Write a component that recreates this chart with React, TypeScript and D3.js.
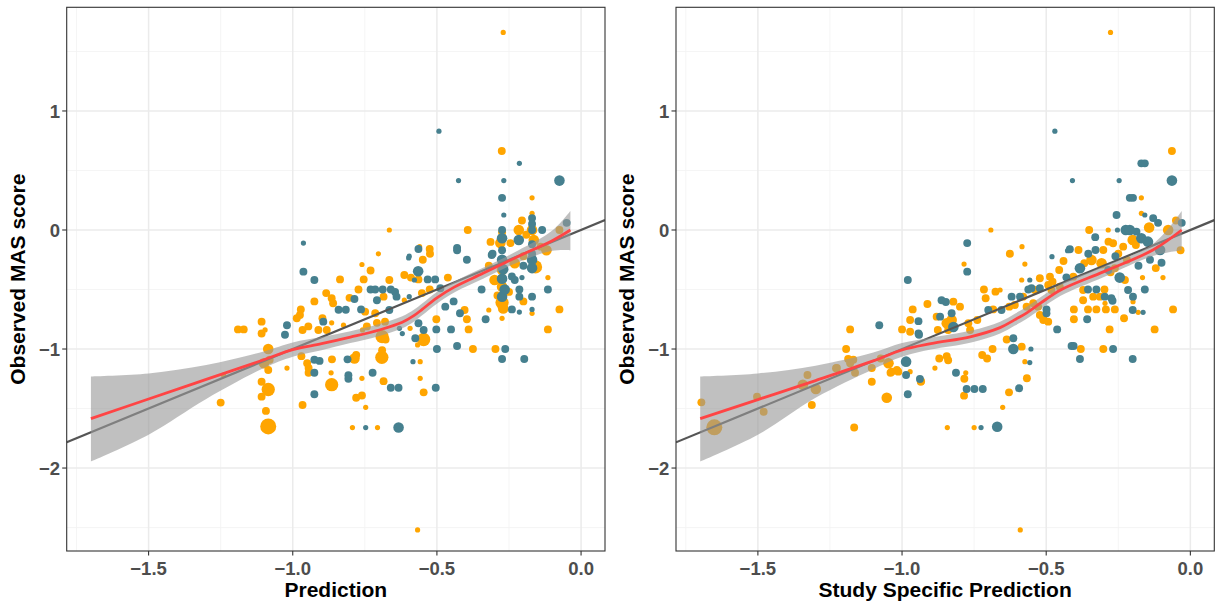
import React from "react";
import * as d3 from "d3";

type Pt = [number, number, number];

// ---------- tick values & labels ----------
const xTickValues = [-1.5, -1.0, -0.5, 0.0];
const xMinorValues = [-1.75, -1.25, -0.75, -0.25];
const yTickValues = [-2, -1, 0, 1];
const yMinorValues = [-2.5, -1.5, -0.5, 0.5, 1.5];
const xTitles = ["Prediction", "Study Specific Prediction"];
const yTitle = "Observed MAS score";
const xDomain = [-1.784, 0.083];
const yDomain = [-2.697, 1.871];

// ---------- left panel points [x, y, sizeClass] ----------
const leftOrange: Pt[] = [
  [-0.27, 1.66, 1], [-0.275, 0.664, 2], [-0.17, 0.27, 1], [-0.17, 0.14, 1], [-0.205, 0.08, 2],
  [-0.216, 0.0, 3], [-0.17, 0.0, 3], [-0.274, -0.02, 2], [-0.075, 0.0, 2], [-0.665, 0.0, 1],
  [-0.393, 0.0, 2], [-0.525, -0.16, 2], [-0.524, -0.2, 2], [-0.703, -0.2, 1], [-0.549, -0.25, 2],
  [-0.314, -0.1, 2], [-0.245, -0.11, 2], [-0.164, -0.084, 3], [-0.158, -0.31, 4], [-0.274, -0.336, 3],
  [-0.274, -0.476, 3], [-0.274, -0.61, 4], [-0.76, -0.29, 1], [-0.73, -0.34, 2], [-0.836, -0.415, 2],
  [-0.754, -0.415, 2], [-0.665, -0.42, 2], [-0.613, -0.378, 2], [-0.59, -0.4, 2], [-0.564, -0.415, 2],
  [-0.462, -0.4, 2], [-0.525, -0.5, 2], [-0.552, -0.53, 2], [-0.772, -0.5, 2], [-0.685, -0.56, 2],
  [-0.613, -0.59, 1], [-0.803, -0.57, 2], [-0.884, -0.53, 2], [-0.865, -0.574, 2], [-0.86, -0.616, 2],
  [-0.925, -0.6, 2], [-0.749, -0.686, 2], [-0.714, -0.7, 2], [-0.972, -0.667, 2], [-0.975, -0.714, 2],
  [-0.986, -0.742, 2], [-0.897, -0.742, 2], [-0.865, -0.78, 1], [-1.108, -0.77, 2], [-1.108, -0.87, 2],
  [-1.096, -0.84, 1], [-1.19, -0.835, 2], [-1.17, -0.835, 2], [-0.966, -0.84, 2], [-0.946, -0.81, 2],
  [-0.911, -0.84, 2], [-0.882, -0.84, 2], [-0.824, -0.8, 1], [-0.758, -0.84, 1], [-0.743, -0.81, 2],
  [-0.708, -0.78, 2], [-0.68, -0.77, 2], [-0.69, -0.896, 4], [-0.678, -0.92, 2], [-0.593, -0.826, 1],
  [-0.546, -0.92, 4], [-0.567, -0.966, 1], [-0.502, -0.75, 2], [-0.404, -0.672, 2], [-0.396, -0.75, 2],
  [-0.39, -0.835, 2], [-0.375, -1.0, 2], [-0.32, -0.672, 1], [-0.297, -1.0, 2], [-0.274, -0.742, 1],
  [-0.17, -0.7, 1], [-0.115, -0.4, 1], [-0.075, -0.667, 2], [-0.115, -0.835, 2], [-0.12, -0.17, 3],
  [-1.085, -1.0, 3], [-1.08, -1.09, 2], [-1.1, -1.12, 3], [-1.085, -1.176, 2], [-1.02, -1.16, 1],
  [-0.95, -1.12, 2], [-0.945, -1.16, 2], [-0.945, -1.2, 2], [-0.97, -1.06, 2], [-0.864, -1.087, 2],
  [-0.786, -1.08, 3], [-0.78, -1.05, 2], [-0.691, -1.07, 4], [-0.69, -1.01, 2], [-0.867, -1.2, 1],
  [-0.76, -1.246, 1], [-0.685, -1.27, 2], [-0.865, -1.3, 4], [-0.78, -1.41, 2], [-0.76, -1.39, 2],
  [-0.747, -1.49, 1], [-0.558, -1.106, 1], [-0.558, -1.246, 1], [-0.546, -1.364, 2], [-0.966, -1.47, 2],
  [-1.093, -1.52, 2], [-1.108, -1.4, 2], [-1.085, -1.34, 4], [-1.108, -1.275, 2], [-1.085, -1.65, 5],
  [-1.25, -1.45, 2], [-0.793, -1.66, 1], [-0.706, -1.66, 1], [-0.567, -2.52, 1], [-1.24, -1.22, 1],
  [-0.56, -0.14, 1], [-0.2, -0.22, 2], [-0.23, -0.28, 3], [-0.3, -0.42, 3], [-0.25, -0.52, 2],
  [-0.32, -0.3, 2], [-0.14, -0.14, 2], [-0.19, -0.04, 2], [-0.28, -0.11, 3], [-0.27, -0.66, 3],
  [-0.29, -0.55, 2], [-0.2, -0.6, 2],
];

const leftTeal: Pt[] = [
  [-0.493, 0.83, 1], [-0.214, 0.56, 1], [-0.425, 0.415, 1], [-0.268, 0.415, 1], [-0.075, 0.415, 3],
  [-0.274, 0.27, 2], [-0.268, 0.126, 1], [-0.17, 0.1, 2], [-0.17, 0.05, 2], [-0.17, 0.0, 2],
  [-0.274, 0.0, 2], [-0.135, 0.0, 2], [-0.05, 0.06, 2], [-0.963, -0.11, 1], [-0.43, -0.15, 2],
  [-0.43, -0.17, 2], [-0.564, -0.16, 2], [-0.596, -0.22, 1], [-0.396, -0.25, 2], [-0.307, -0.2, 2],
  [-0.274, -0.07, 3], [-0.216, -0.084, 3], [-0.274, -0.17, 2], [-0.274, -0.25, 3], [-0.274, -0.41, 3],
  [-0.274, -0.56, 3], [-0.17, -0.2, 2], [-0.17, -0.25, 3], [-0.17, -0.32, 3], [-0.24, -0.39, 2],
  [-0.23, -0.42, 2], [-0.205, -0.4, 1], [-0.963, -0.35, 2], [-0.925, -0.42, 2], [-0.578, -0.42, 1],
  [-0.532, -0.415, 2], [-0.506, -0.415, 2], [-0.488, -0.49, 2], [-0.73, -0.5, 2], [-0.714, -0.5, 2],
  [-0.688, -0.5, 2], [-0.66, -0.5, 2], [-0.645, -0.52, 2], [-0.64, -0.56, 2], [-0.708, -0.59, 2],
  [-0.596, -0.56, 1], [-0.786, -0.58, 2], [-0.841, -0.67, 2], [-0.816, -0.67, 2], [-0.763, -0.667, 2],
  [-0.665, -0.672, 2], [-0.894, -0.77, 2], [-1.02, -0.8, 2], [-1.027, -0.88, 2], [-0.63, -0.826, 1],
  [-0.62, -0.87, 1], [-0.564, -0.784, 2], [-0.546, -0.84, 2], [-0.575, -0.91, 2], [-0.502, -0.835, 2],
  [-0.5, -1.0, 2], [-0.451, -0.835, 2], [-0.442, -0.6, 2], [-0.471, -0.644, 2], [-0.42, -0.7, 2],
  [-0.43, -0.975, 2], [-0.331, -0.75, 2], [-0.345, -0.5, 2], [-0.263, -1.0, 2], [-0.274, -1.084, 2],
  [-0.197, -1.084, 2], [-0.24, -0.667, 2], [-0.214, -0.69, 1], [-0.214, -0.56, 2], [-0.214, -0.5, 2],
  [-0.17, -0.56, 2], [-0.17, -0.667, 1], [-0.115, -0.5, 2], [-0.925, -1.09, 2], [-0.907, -1.1, 2],
  [-0.925, -1.2, 2], [-0.925, -1.38, 2], [-0.81, -1.087, 2], [-0.807, -1.22, 2], [-0.807, -1.25, 2],
  [-0.723, -1.2, 2], [-0.66, -1.325, 2], [-0.633, -1.325, 2], [-0.583, -1.106, 1], [-0.504, -1.325, 2],
  [-0.747, -1.66, 1], [-0.633, -1.66, 3], [-0.598, -0.235, 1], [-0.565, -0.346, 3], [-0.31, -0.21, 2],
  [-0.27, -0.33, 3], [-0.265, -0.5, 3], [-0.17, -0.12, 2], [-0.2, -0.3, 2],
];

// ---------- right panel points ----------
const rightOrange: Pt[] = [
  [-0.277, 1.66, 1], [-0.064, 0.664, 2], [-0.17, 0.27, 1], [-0.17, 0.14, 1], [-0.285, 0.0, 1],
  [-0.351, 0.0, 2], [-0.143, 0.02, 3], [-0.077, 0.0, 3], [-0.05, 0.08, 2], [-0.034, -0.17, 2],
  [-0.2, -0.084, 3], [-0.189, -0.126, 2], [-0.233, -0.14, 2], [-0.268, -0.112, 2], [-0.284, -0.098, 2],
  [-0.302, -0.168, 2], [-0.388, -0.168, 2], [-0.626, -0.2, 2], [-0.584, -0.14, 1], [-0.574, -0.286, 1],
  [-0.692, 0.0, 1], [-0.785, -0.286, 1], [-0.585, -0.42, 1], [-0.522, -0.406, 2], [-0.487, -0.392, 2],
  [-0.478, -0.434, 2], [-0.455, -0.336, 2], [-0.406, -0.392, 2], [-0.368, -0.28, 2], [-0.343, -0.252, 3],
  [-0.308, -0.28, 3], [-0.262, -0.322, 2], [-0.227, -0.42, 2], [-0.199, -0.602, 1], [-0.181, -0.692, 1],
  [-0.166, -0.4, 1], [-0.095, -0.4, 1], [-0.06, -0.667, 2], [-0.124, -0.835, 2], [-0.23, -0.742, 2],
  [-0.28, -0.835, 2], [-0.302, -1.0, 2], [-0.38, -1.0, 2], [-0.51, -0.742, 2], [-0.493, -0.77, 2],
  [-0.404, -0.667, 2], [-0.404, -0.75, 2], [-0.355, -0.667, 2], [-0.326, -0.667, 2], [-0.293, -0.667, 2],
  [-0.262, -0.667, 2], [-0.372, -0.59, 2], [-0.337, -0.56, 2], [-0.314, -0.56, 2], [-0.296, -0.616, 1],
  [-0.372, -0.504, 2], [-0.298, -0.5, 2], [-0.716, -0.5, 2], [-0.71, -0.574, 2], [-0.676, -0.518, 2],
  [-0.66, -0.504, 1], [-0.58, -0.56, 2], [-0.539, -0.504, 2], [-0.493, -0.462, 2], [-0.453, -0.476, 2],
  [-0.482, -0.504, 2], [-0.628, -0.644, 2], [-0.609, -0.63, 2], [-0.568, -0.644, 2], [-0.545, -0.616, 2],
  [-0.528, -0.644, 2], [-0.522, -0.714, 2], [-0.51, -0.756, 2], [-0.684, -0.667, 2], [-0.739, -0.756, 2],
  [-0.77, -0.784, 2], [-0.764, -0.84, 2], [-0.822, -0.602, 2], [-0.799, -0.644, 2], [-0.845, -0.784, 3],
  [-0.828, -0.756, 3], [-0.84, -0.84, 2], [-0.876, -0.84, 2], [-0.88, -0.728, 2], [-0.912, -0.622, 2],
  [-0.963, -0.667, 2], [-0.972, -0.756, 2], [-0.972, -0.855, 2], [-1.0, -0.835, 2], [-1.18, -0.835, 2],
  [-1.194, -1.0, 2], [-1.169, -1.09, 2], [-1.18, -1.12, 2], [-1.226, -1.16, 2], [-1.105, -1.16, 2],
  [-1.074, -1.08, 2], [-1.047, -1.12, 3], [-1.036, -1.19, 2], [-1.013, -1.19, 2], [-0.972, -1.19, 1],
  [-0.934, -1.27, 2], [-1.105, -1.275, 2], [-1.053, -1.41, 3], [-0.886, -1.16, 1], [-0.871, -1.08, 2],
  [-0.845, -1.06, 2], [-0.84, -1.095, 2], [-0.722, -1.05, 2], [-0.705, -1.08, 2], [-0.686, -1.0, 2],
  [-0.637, -0.92, 2], [-0.585, -0.98, 2], [-0.574, -1.106, 1], [-0.779, -1.2, 1], [-0.784, -1.25, 2],
  [-0.567, -1.246, 2], [-0.629, -1.364, 2], [-0.785, -1.392, 2], [-0.651, -1.49, 1], [-1.166, -1.66, 2],
  [-0.843, -1.66, 1], [-0.75, -1.66, 1], [-0.59, -2.52, 1], [-1.696, -1.448, 2], [-1.651, -1.658, 5],
  [-1.503, -1.4, 2], [-1.48, -1.527, 2], [-1.328, -1.218, 2], [-1.344, -1.3, 3], [-1.299, -1.336, 3],
  [-1.313, -1.47, 2], [-1.229, -1.162, 2], [-1.187, -1.084, 2], [-1.163, -1.2, 2], [-1.018, -1.176, 2],
  [-0.935, -1.275, 2], [-1.04, -1.2, 2], [-0.277, -0.356, 2], [-0.44, -0.26, 2], [-0.25, -0.2, 2],
  [-0.22, -0.25, 2], [-0.12, -0.32, 2],
];

const rightTeal: Pt[] = [
  [-0.47, 0.83, 1], [-0.17, 0.56, 2], [-0.158, 0.56, 2], [-0.409, 0.415, 1], [-0.247, 0.415, 1],
  [-0.064, 0.415, 3], [-0.21, 0.27, 2], [-0.199, 0.27, 2], [-0.256, 0.126, 2], [-0.129, 0.1, 2],
  [-0.112, 0.06, 2], [-0.158, 0.126, 1], [-0.253, 0.0, 1], [-0.224, 0.0, 3], [-0.21, 0.0, 3],
  [-0.187, -0.014, 2], [-0.03, 0.06, 2], [-0.17, -0.07, 3], [-0.147, -0.098, 3], [-0.105, -0.168, 3],
  [-0.1, -0.275, 2], [-0.14, -0.25, 2], [-0.329, -0.168, 2], [-0.354, -0.2, 2], [-0.418, -0.162, 2],
  [-0.426, -0.174, 1], [-0.48, -0.224, 1], [-0.774, -0.11, 2], [-0.774, -0.35, 2], [-0.98, -0.42, 2],
  [-0.557, -0.42, 1], [-0.43, -0.398, 2], [-0.383, -0.322, 3], [-0.285, -0.336, 2], [-0.245, -0.4, 3],
  [-0.216, -0.504, 2], [-0.199, -0.56, 2], [-0.2, -0.672, 2], [-0.164, -0.692, 1], [-0.158, -0.5, 2],
  [-0.268, -1.0, 2], [-0.2, -1.084, 2], [-0.412, -0.975, 2], [-0.405, -0.975, 2], [-0.383, -1.084, 2],
  [-0.462, -0.835, 2], [-0.358, -0.75, 2], [-0.326, -0.5, 2], [-0.355, -0.5, 2], [-0.297, -0.56, 2],
  [-0.274, -0.574, 2], [-0.27, -0.594, 2], [-0.62, -0.56, 2], [-0.591, -0.56, 2], [-0.562, -0.5, 2],
  [-0.551, -0.49, 2], [-0.522, -0.49, 2], [-0.655, -0.672, 2], [-0.701, -0.672, 2], [-0.499, -0.667, 2],
  [-0.499, -0.7, 2], [-0.863, -0.59, 2], [-0.848, -0.605, 2], [-0.828, -0.7, 2], [-0.822, -0.815, 3],
  [-0.868, -0.728, 2], [-0.943, -0.766, 2], [-0.943, -0.87, 2], [-1.079, -0.8, 2], [-0.986, -1.106, 3],
  [-0.986, -1.218, 2], [-0.938, -1.252, 2], [-0.98, -1.38, 2], [-0.941, -0.88, 2], [-0.614, -0.91, 2],
  [-0.614, -1.0, 3], [-0.553, -1.0, 1], [-0.557, -1.114, 1], [-0.813, -1.2, 2], [-0.776, -1.336, 2],
  [-0.749, -1.336, 2], [-0.72, -1.336, 2], [-0.594, -1.33, 2], [-0.726, -1.66, 1], [-0.67, -1.653, 3],
  [-0.26, -0.22, 2], [-0.18, -0.3, 2], [-0.33, -0.06, 2],
];

// ---------- loess smooth (fit + confidence band) ----------
const leftSmoothX = [-1.7, -1.5, -1.3, -1.1, -1.0, -0.9, -0.8, -0.7, -0.62, -0.58, -0.55, -0.5, -0.44, -0.34, -0.22, -0.1, -0.037];
const leftSmoothFit = [-1.585, -1.42, -1.255, -1.09, -1.005, -0.955, -0.9, -0.84, -0.775, -0.72, -0.665, -0.57, -0.48, -0.364, -0.224, -0.09, 0.0];
const leftSmoothHi = [-1.23, -1.205, -1.135, -1.02, -0.945, -0.9, -0.85, -0.79, -0.725, -0.67, -0.615, -0.52, -0.434, -0.318, -0.175, -0.005, 0.16];
const leftSmoothLo = [-1.945, -1.72, -1.42, -1.16, -1.065, -1.01, -0.95, -0.89, -0.825, -0.77, -0.715, -0.62, -0.526, -0.41, -0.273, -0.175, -0.17];

const rightSmoothX = [-1.7, -1.5, -1.3, -1.1, -1.0, -0.9, -0.76, -0.66, -0.61, -0.57, -0.52, -0.45, -0.3, -0.13, -0.03];
const rightSmoothFit = [-1.585, -1.425, -1.265, -1.1, -1.008, -0.955, -0.895, -0.82, -0.755, -0.7, -0.615, -0.504, -0.35, -0.168, 0.0];
const rightSmoothHi = [-1.23, -1.205, -1.14, -1.03, -0.95, -0.905, -0.845, -0.77, -0.705, -0.65, -0.565, -0.455, -0.305, -0.118, 0.16];
const rightSmoothLo = [-1.945, -1.72, -1.41, -1.17, -1.065, -1.005, -0.945, -0.87, -0.805, -0.75, -0.665, -0.553, -0.395, -0.218, -0.17];

// ---------- layout ----------
const W = 1215;
const H = 606;
const TOP = 7.3;
const PW = 538.3;
const PH = 543.7;
const PANEL_X = [66.7, 676];
const FONT = "'Liberation Sans', Arial, Helvetica, sans-serif";
const ORANGE = "#FFA500";
const TEAL = "#46808F";

interface PanelProps {
  id: string;
  x0: number;
  title: string;
  orange: Pt[];
  teal: Pt[];
  sx: number[];
  fit: number[];
  lo: number[];
  hi: number[];
}

function Panel({ id, x0, title, orange, teal, sx, fit, lo, hi }: PanelProps) {
  const x = d3.scaleLinear().domain(xDomain).range([0, PW]);
  const y = d3.scaleLinear().domain(yDomain).range([PH, 0]);
  const r = d3.scaleLinear().domain([1, 5]).range([2.6, 8]);
  const rows = sx.map((v, i) => ({ x: v, f: fit[i], lo: lo[i], hi: hi[i] }));
  const curve = d3.curveCatmullRom.alpha(0.5);
  const area = d3
    .area<any>()
    .x((d) => x(d.x))
    .y0((d) => y(d.lo))
    .y1((d) => y(d.hi))
    .curve(curve);
  const line = d3
    .line<any>()
    .x((d) => x(d.x))
    .y((d) => y(d.f))
    .curve(curve);
  const fx = d3.format(".1f");
  const fy = d3.format("d");
  const [d0, d1] = x.domain();

  return (
    <g transform={`translate(${x0},${TOP})`}>
      <defs>
        <clipPath id={id}>
          <rect x={0} y={0} width={PW} height={PH} />
        </clipPath>
      </defs>
      <rect x={0} y={0} width={PW} height={PH} fill="#FFFFFF" />
      {xMinorValues.map((v) => (
        <line key={"xm" + v} x1={x(v)} x2={x(v)} y1={0} y2={PH} stroke="#F2F2F2" strokeWidth={0.8} />
      ))}
      {yMinorValues.map((v) => (
        <line key={"ym" + v} x1={0} x2={PW} y1={y(v)} y2={y(v)} stroke="#F2F2F2" strokeWidth={0.8} />
      ))}
      {xTickValues.map((v) => (
        <line key={"xg" + v} x1={x(v)} x2={x(v)} y1={0} y2={PH} stroke="#EBEBEB" strokeWidth={1.5} />
      ))}
      {yTickValues.map((v) => (
        <line key={"yg" + v} x1={0} x2={PW} y1={y(v)} y2={y(v)} stroke="#EBEBEB" strokeWidth={1.5} />
      ))}
      <g clipPath={`url(#${id})`}>
        {orange.map((p, i) => (
          <circle key={"o" + i} cx={x(p[0])} cy={y(p[1])} r={r(p[2])} fill={ORANGE} />
        ))}
        {teal.map((p, i) => (
          <circle key={"t" + i} cx={x(p[0])} cy={y(p[1])} r={r(p[2])} fill={TEAL} />
        ))}
        <line x1={x(d0)} y1={y(d0)} x2={x(d1)} y2={y(d1)} stroke="#555555" strokeWidth={2.2} />
        <path d={area(rows) || ""} fill="#999999" fillOpacity={0.62} />
        <path d={line(rows) || ""} fill="none" stroke="#FF4444" strokeWidth={2.8} />
      </g>
      <rect x={0} y={0} width={PW} height={PH} fill="none" stroke="#333333" strokeWidth={1.1} />
      {xTickValues.map((v) => (
        <g key={"xt" + v}>
          <line x1={x(v)} x2={x(v)} y1={PH} y2={PH + 4.5} stroke="#333333" strokeWidth={1.1} />
          <text
            x={x(v)}
            y={575 - TOP}
            textAnchor="middle"
            fontFamily={FONT}
            fontWeight="bold"
            fontSize={18.5}
            fill="#4D4D4D"
          >
            {fx(v)}
          </text>
        </g>
      ))}
      {yTickValues.map((v) => (
        <g key={"yt" + v}>
          <line x1={-4.5} x2={0} y1={y(v)} y2={y(v)} stroke="#333333" strokeWidth={1.1} />
          <text
            x={-6.7}
            y={y(v) + 6.6}
            textAnchor="end"
            fontFamily={FONT}
            fontWeight="bold"
            fontSize={18.5}
            fill="#4D4D4D"
          >
            {fy(v)}
          </text>
        </g>
      ))}
      <text
        x={PW / 2}
        y={597 - TOP}
        textAnchor="middle"
        fontFamily={FONT}
        fontWeight="bold"
        fontSize={21}
        fill="#000000"
      >
        {title}
      </text>
      <text
        transform={`translate(${-41.7},${PH / 2}) rotate(-90)`}
        textAnchor="middle"
        fontFamily={FONT}
        fontWeight="bold"
        fontSize={21}
        fill="#000000"
      >
        {yTitle}
      </text>
    </g>
  );
}

export default function App() {
  return (
    <div style={{ position: "absolute", left: 0, top: 0, width: W, height: H, background: "#FFFFFF" }}>
      <svg width={W} height={H} viewBox={`0 0 ${W} ${H}`} style={{ display: "block" }}>
        <rect x={0} y={0} width={W} height={H} fill="#FFFFFF" />
        <Panel
          id="clipL"
          x0={PANEL_X[0]}
          title={xTitles[0]}
          orange={leftOrange}
          teal={leftTeal}
          sx={leftSmoothX}
          fit={leftSmoothFit}
          lo={leftSmoothLo}
          hi={leftSmoothHi}
        />
        <Panel
          id="clipR"
          x0={PANEL_X[1]}
          title={xTitles[1]}
          orange={rightOrange}
          teal={rightTeal}
          sx={rightSmoothX}
          fit={rightSmoothFit}
          lo={rightSmoothLo}
          hi={rightSmoothHi}
        />
      </svg>
    </div>
  );
}
